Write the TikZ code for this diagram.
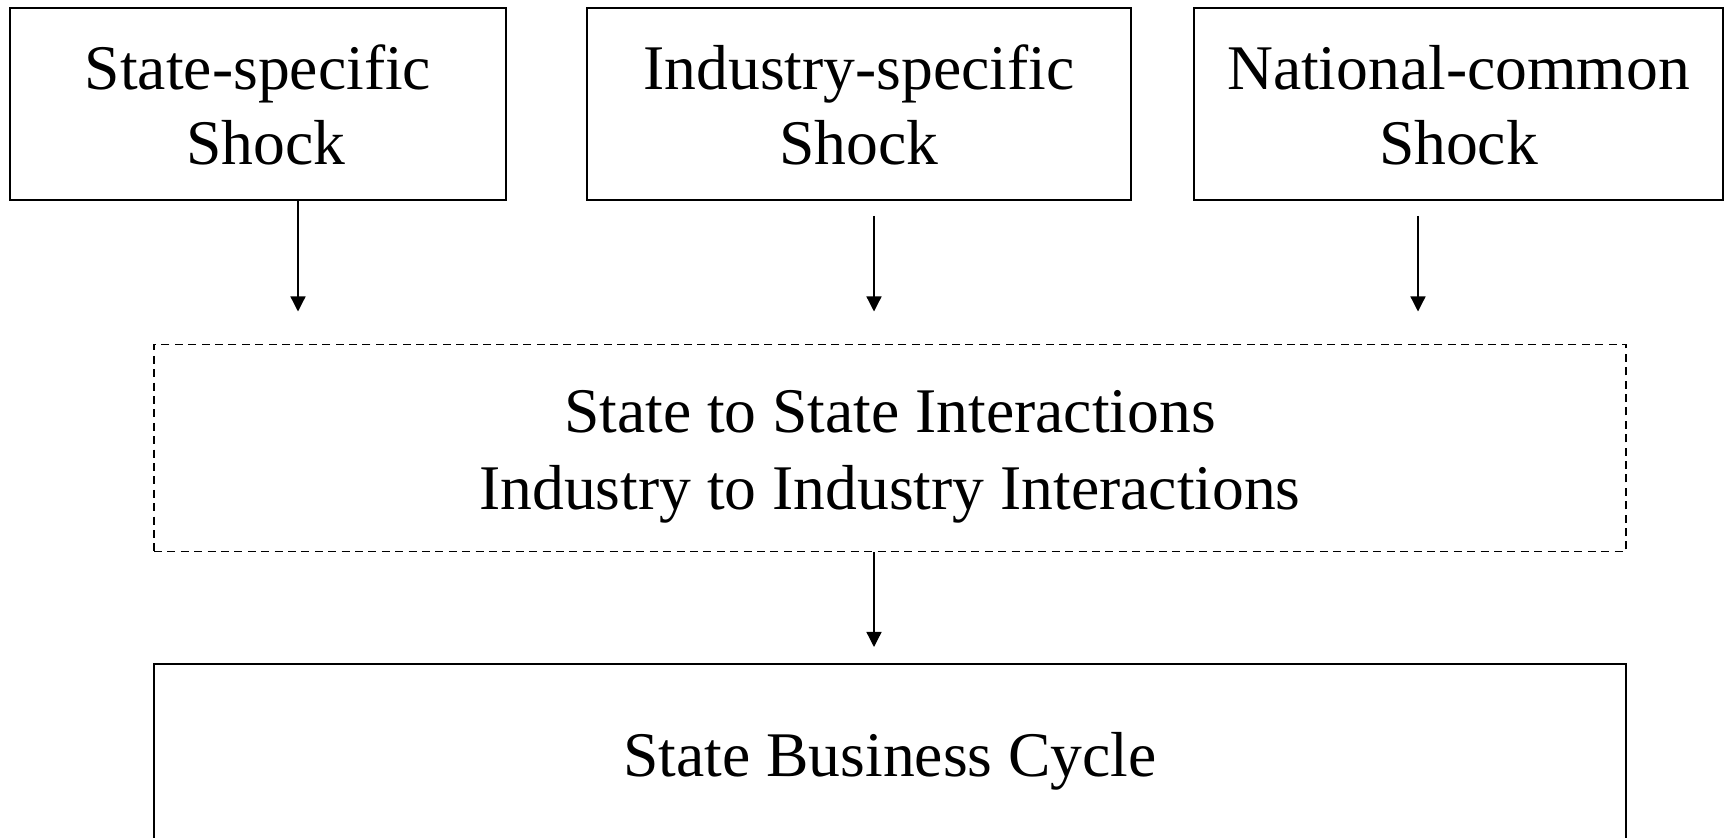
\documentclass[tikz,border=0pt]{standalone}
\usepackage{fontspec}
\setmainfont{Liberation Serif}
\usetikzlibrary{arrows.meta}
\newcommand{\tp}{\rule{0pt}{31.5pt}}
\newcommand{\bt}{\rule[-8pt]{0pt}{8pt}}
\begin{document}
\begin{tikzpicture}[x=0.5pt,y=-0.5pt,
  box/.style={draw, line width=0.8pt, align=center, inner sep=0pt,
    font=\fontsize{31.8}{37.5}\selectfont},
  dbox/.style={box, line width=0.75pt, dash pattern=on 4pt off 2.7pt,
    font=\fontsize{31.8}{38.5}\selectfont},
  arr/.style={-{Triangle[length=7.5pt,width=7.5pt]}, line width=0.65pt}]
\useasboundingbox (0,0) rectangle (1726,838);
\clip (0,0) rectangle (1726,838);
\node[box, minimum width=248pt, minimum height=96pt] (b1) at (258,104) {\tp State-specific\\\hspace*{7.8pt}Shock\bt};
\node[box, minimum width=272pt, minimum height=96pt] (b2) at (859,104) {\tp Industry-specific\\Shock\bt};
\node[box, minimum width=264.5pt, minimum height=96pt] (b3) at (1458.5,104) {\tp National-common\\Shock\bt};
\node[dbox, minimum width=736pt, minimum height=103.5pt] (mid) at (890,448) {\tp State to State Interactions\\Industry to Industry Interactions\bt};
\node[box, minimum width=736pt, minimum height=92pt] (bot) at (890,756) {\rule{0pt}{28.7pt}State Business Cycle\bt};
\coordinate (e1) at (298,311.5);
\coordinate (s2) at (874,216);
\coordinate (e2) at (874,311.5);
\coordinate (s3) at (1418,216);
\coordinate (e3) at (1418,311.5);
\coordinate (e4) at (874,647);
\draw[arr] (b1.south -| e1) -- (e1);
\draw[arr] (s2) -- (e2);
\draw[arr] (s3) -- (e3);
\draw[arr] (mid.south -| e4) -- (e4);
\end{tikzpicture}
\end{document}
